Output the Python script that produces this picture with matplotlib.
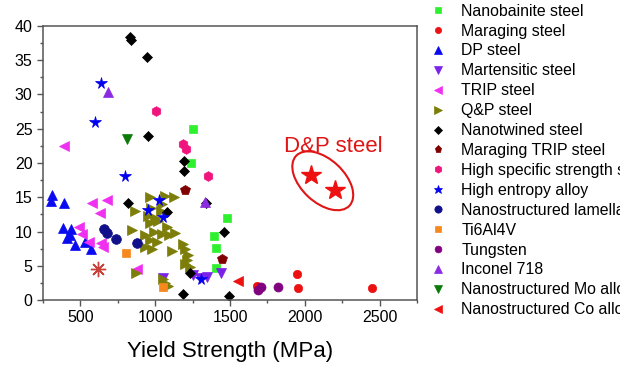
import matplotlib
matplotlib.use("Agg")
import matplotlib.pyplot as plt
from matplotlib.patches import Ellipse
from matplotlib.transforms import ScaledTranslation
from matplotlib.ticker import MultipleLocator

plt.rcParams['font.family'] = ['Liberation Sans', 'DejaVu Sans']

# =====================================================
# DATA (yield strength MPa, uniform elongation %)
# =====================================================

nanobainite_x = [1250, 1240, 1480, 1395, 1405, 1405]
nanobainite_y = [25.0, 20.0, 12.0, 9.3, 7.6, 4.7]

maraging_x = [1680, 1947, 1953, 2450]
maraging_y = [2.0, 3.8, 1.7, 1.7]

dp_x = [310, 305, 390, 385, 440, 430, 410, 465, 530, 570]
dp_y = [15.3, 14.5, 14.2, 10.5, 10.3, 9.5, 9.0, 8.0, 8.5, 7.4]

martensitic_x = [1050, 1255, 1300, 1345, 1440]
martensitic_y = [3.2, 3.6, 3.2, 3.3, 3.9]

trip_x = [390, 580, 680, 630, 490, 510, 560, 640, 650, 880]
trip_y = [22.5, 14.1, 14.6, 12.7, 10.6, 9.7, 8.5, 8.3, 7.8, 4.6]

qp_x = [965, 1065, 1125, 1045, 865, 955, 965, 1020, 1080, 845,
        990, 935, 1045, 1090, 965, 1010, 935, 980, 1115, 1185,
        1200, 1220, 1215, 1200, 1235, 870, 1055, 1065, 1085, 1000,
        1040, 975, 1130]
qp_y = [15.0, 15.2, 15.1, 14.0, 13.0, 12.2, 11.3, 11.5, 10.7, 10.2,
        10.0, 9.5, 9.6, 9.5, 8.8, 8.4, 7.8, 7.5, 7.1, 8.2,
        7.4, 6.6, 5.9, 5.3, 4.8, 4.0, 3.1, 2.5, 2.1, 11.9,
        13.0, 13.5, 9.8]

nanotwined_x = [830, 840, 945, 950, 1190, 1190, 820, 1080, 1235, 1185, 1340, 1460, 1490]
nanotwined_y = [38.4, 37.9, 35.4, 24.0, 20.3, 18.9, 14.2, 12.8, 4.0, 0.9, 14.1, 10.0, 0.6]

maraging_trip_x = [1200, 1445]
maraging_trip_y = [16.0, 6.0]

high_specific_x = [1005, 1185, 1205, 1355]
high_specific_y = [27.6, 22.7, 22.0, 18.1]

hea_x = [638, 600, 800, 1022, 949, 1049, 1304]
hea_y = [31.6, 26.0, 18.1, 14.6, 13.1, 12.1, 3.0]

lamellar_x = [655, 680, 740, 880]
lamellar_y = [10.3, 9.8, 8.9, 8.3]

ti64_x = [807, 1050]
ti64_y = [6.9, 1.9]

tungsten_x = [1690, 1710, 1822]
tungsten_y = [1.5, 1.9, 1.9]

inconel_x = [682, 1333]
inconel_y = [30.3, 14.3]

mo_x = [811]
mo_y = [23.5]

co_x = [1556]
co_y = [2.8]

other_x = [616]
other_y = [4.5]

dp_steel_x = [2040, 2200]
dp_steel_y = [18.2, 16.1]

# =====================================================
# PLOT
# =====================================================

fig = plt.figure(figsize=(6.2, 3.65), dpi=100)
ax = fig.add_axes([0.0694, 0.178, 0.6032, 0.751])

series = [
    (nanobainite_x, nanobainite_y, "s", "#2ef02e", 5.5, "Nanobainite steel"),
    (maraging_x, maraging_y, "o", "#ee1111", 6.0, "Maraging steel"),
    (dp_x, dp_y, "^", "#0a0af0", 7.5, "DP steel"),
    (martensitic_x, martensitic_y, "v", "#7b22ea", 7.5, "Martensitic steel"),
    (trip_x, trip_y, "<", "#f030f0", 7.5, "TRIP steel"),
    (qp_x, qp_y, ">", "#7d7d0a", 7.5, "Q&P steel"),
    (nanotwined_x, nanotwined_y, "D", "black", 5.0, "Nanotwined steel"),
    (maraging_trip_x, maraging_trip_y, "p", "#800000", 7.0, "Maraging TRIP steel"),
    (high_specific_x, high_specific_y, "h", "#f0157d", 7.0, "High specific strength steel"),
    (hea_x, hea_y, "*", "#0000ee", 8.5, "High entropy alloy"),
    (lamellar_x, lamellar_y, "o", "#10108a", 7.0, "Nanostructured lamellar steel"),
    (ti64_x, ti64_y, "s", "#f5891e", 5.5, "Ti6Al4V"),
    (tungsten_x, tungsten_y, "o", "#800080", 6.5, "Tungsten"),
    (inconel_x, inconel_y, "^", "#8a2be2", 7.5, "Inconel 718"),
    (mo_x, mo_y, "v", "#0a7a0a", 7.5, "Nanostructured Mo alloy"),
    (co_x, co_y, "<", "#ee1111", 7.5, "Nanostructured Co alloy"),
]

for xs, ys, mk, col, ms, lab in series:
    ax.plot(xs, ys, linestyle="none", marker=mk, color=col,
            markersize=ms, markeredgewidth=0.5, label=lab)

# unlabeled point
ax.plot(other_x, other_y, linestyle="none", marker=(8, 2, 0),
        color="#c8403a", markersize=11, markeredgewidth=1.0,
        label="_nolegend_")

# D&P steel highlight
ax.plot(dp_steel_x, dp_steel_y, linestyle="none", marker="*",
        color="#ee1111", markersize=15, label="_nolegend_")

ell_trans = fig.dpi_scale_trans + ScaledTranslation(2120, 17.4, ax.transData)
ax.add_patch(Ellipse((0, 0), 0.73, 0.43, angle=-43, fill=False,
                     edgecolor="#e01515", linewidth=1.5,
                     transform=ell_trans))
ax.text(2190, 22.4, "D&P steel", color="#e01515", fontsize=16,
        ha="center", va="center")

ax.set_xlim(250, 2750)
ax.set_ylim(0, 40)
ax.xaxis.set_major_locator(MultipleLocator(500))
ax.xaxis.set_minor_locator(MultipleLocator(250))
ax.yaxis.set_major_locator(MultipleLocator(5))
ax.yaxis.set_minor_locator(MultipleLocator(2.5))

ax.tick_params(which="major", direction="out", length=4.5, width=1,
               labelsize=11.5, color="#555555", pad=3)
ax.tick_params(which="minor", direction="out", length=2.5, width=1,
               color="#555555")
for sp in ax.spines.values():
    sp.set_color("#555555")
    sp.set_linewidth(1.1)

ax.set_xlabel("Yield Strength (MPa)", fontsize=16, labelpad=11)

fig.legend(
    loc="upper left",
    bbox_to_anchor=(0.693, 0.990),
    frameon=False,
    fontsize=11.4,
    handlelength=1.0,
    handletextpad=1.0,
    labelspacing=0.31,
    borderpad=0,
    borderaxespad=0,
    markerscale=0.75,
)

fig.savefig("out.png", dpi=100)
